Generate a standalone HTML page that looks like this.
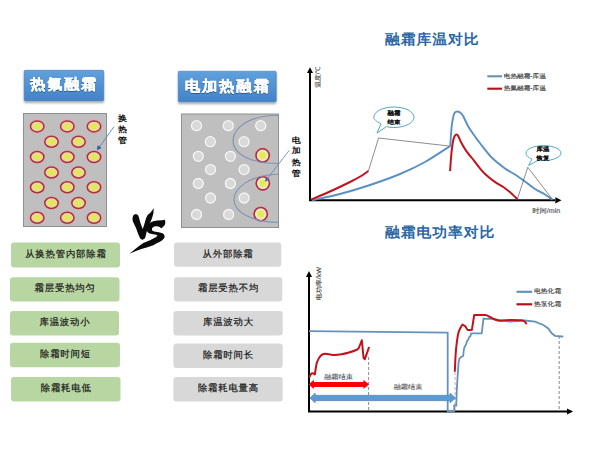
<!DOCTYPE html>
<html><head><meta charset="utf-8">
<style>
html,body{margin:0;padding:0;background:#fff;width:600px;height:450px;overflow:hidden}
svg{display:block;font-family:"Liberation Sans",sans-serif;text-rendering:geometricPrecision}
</style></head><body>
<svg width="600" height="450" viewBox="0 0 600 450">
<defs>
  <linearGradient id="tb" x1="0" y1="0" x2="0" y2="1">
    <stop offset="0" stop-color="#60a0dc"/>
    <stop offset="1" stop-color="#4283c8"/>
  </linearGradient>
  <filter id="sh" x="-10%" y="-10%" width="120%" height="140%">
    <feGaussianBlur in="SourceAlpha" stdDeviation="1"/>
    <feOffset dy="1.5"/>
    <feComponentTransfer><feFuncA type="linear" slope="0.35"/></feComponentTransfer>
    <feMerge><feMergeNode/><feMergeNode in="SourceGraphic"/></feMerge>
  </filter>
  <filter id="tsh" x="-10%" y="-20%" width="120%" height="150%">
    <feGaussianBlur in="SourceAlpha" stdDeviation="0.5"/>
    <feOffset dy="0.7"/>
    <feComponentTransfer><feFuncA type="linear" slope="0.35"/></feComponentTransfer>
    <feMerge><feMergeNode/><feMergeNode in="SourceGraphic"/></feMerge>
  </filter>
</defs>

<!-- Title boxes -->
<rect x="24.2" y="70.3" width="79.5" height="30.4" rx="1" fill="url(#tb)" stroke="#3f78b8" stroke-width="0.6" filter="url(#sh)"/>
<g filter="url(#tsh)"><g transform="translate(64.14999999999999,85.0) scale(1,0.96)"><text x="0" y="0" style="font-size:15.2px;font-weight:bold;letter-spacing:1.7px" fill="#fff" stroke="#fff" stroke-width="0.2" text-anchor="middle" dominant-baseline="central">热氟融霜</text></g></g>
<rect x="178.3" y="71.2" width="97.9" height="30.5" rx="1" fill="url(#tb)" stroke="#3f78b8" stroke-width="0.6" filter="url(#sh)"/>
<g filter="url(#tsh)"><g transform="translate(227.675,86.8) scale(1,0.96)"><text x="0" y="0" style="font-size:15.4px;font-weight:bold;letter-spacing:1.75px" fill="#fff" stroke="#fff" stroke-width="0.2" text-anchor="middle" dominant-baseline="central">电加热融霜</text></g></g>

<!-- Left gray box -->
<rect x="23.5" y="113.5" width="83" height="113" fill="#bfbfbf" stroke="#8f8f8f" stroke-width="1"/>
<g>
<g transform="translate(37.2,126.4)"><ellipse rx="7.5" ry="6.3" fill="none" stroke="#e4a6ae" stroke-width="1.5"/> <ellipse rx="6.7" ry="5.5" fill="#f0d2b4" stroke="#a5333d" stroke-width="1.5"/> <ellipse rx="4.5" ry="3.5" fill="#e2e470"/> <ellipse rx="2.6" ry="1.9" fill="#e6e84c"/></g>
<g transform="translate(67.3,126.4)"><ellipse rx="7.5" ry="6.3" fill="none" stroke="#e4a6ae" stroke-width="1.5"/> <ellipse rx="6.7" ry="5.5" fill="#f0d2b4" stroke="#a5333d" stroke-width="1.5"/> <ellipse rx="4.5" ry="3.5" fill="#e2e470"/> <ellipse rx="2.6" ry="1.9" fill="#e6e84c"/></g>
<g transform="translate(94,126.4)"><ellipse rx="7.5" ry="6.3" fill="none" stroke="#e4a6ae" stroke-width="1.5"/> <ellipse rx="6.7" ry="5.5" fill="#f0d2b4" stroke="#a5333d" stroke-width="1.5"/> <ellipse rx="4.5" ry="3.5" fill="#e2e470"/> <ellipse rx="2.6" ry="1.9" fill="#e6e84c"/></g>
<g transform="translate(51.5,141.8)"><ellipse rx="7.5" ry="6.3" fill="none" stroke="#e4a6ae" stroke-width="1.5"/> <ellipse rx="6.7" ry="5.5" fill="#f0d2b4" stroke="#a5333d" stroke-width="1.5"/> <ellipse rx="4.5" ry="3.5" fill="#e2e470"/> <ellipse rx="2.6" ry="1.9" fill="#e6e84c"/></g>
<g transform="translate(78.5,141.8)"><ellipse rx="7.5" ry="6.3" fill="none" stroke="#e4a6ae" stroke-width="1.5"/> <ellipse rx="6.7" ry="5.5" fill="#f0d2b4" stroke="#a5333d" stroke-width="1.5"/> <ellipse rx="4.5" ry="3.5" fill="#e2e470"/> <ellipse rx="2.6" ry="1.9" fill="#e6e84c"/></g>
<g transform="translate(37.2,157)"><ellipse rx="7.5" ry="6.3" fill="none" stroke="#e4a6ae" stroke-width="1.5"/> <ellipse rx="6.7" ry="5.5" fill="#f0d2b4" stroke="#a5333d" stroke-width="1.5"/> <ellipse rx="4.5" ry="3.5" fill="#e2e470"/> <ellipse rx="2.6" ry="1.9" fill="#e6e84c"/></g>
<g transform="translate(67.3,157)"><ellipse rx="7.5" ry="6.3" fill="none" stroke="#e4a6ae" stroke-width="1.5"/> <ellipse rx="6.7" ry="5.5" fill="#f0d2b4" stroke="#a5333d" stroke-width="1.5"/> <ellipse rx="4.5" ry="3.5" fill="#e2e470"/> <ellipse rx="2.6" ry="1.9" fill="#e6e84c"/></g>
<g transform="translate(94,157)"><ellipse rx="7.5" ry="6.3" fill="none" stroke="#e4a6ae" stroke-width="1.5"/> <ellipse rx="6.7" ry="5.5" fill="#f0d2b4" stroke="#a5333d" stroke-width="1.5"/> <ellipse rx="4.5" ry="3.5" fill="#e2e470"/> <ellipse rx="2.6" ry="1.9" fill="#e6e84c"/></g>
<g transform="translate(51.5,172.5)"><ellipse rx="7.5" ry="6.3" fill="none" stroke="#e4a6ae" stroke-width="1.5"/> <ellipse rx="6.7" ry="5.5" fill="#f0d2b4" stroke="#a5333d" stroke-width="1.5"/> <ellipse rx="4.5" ry="3.5" fill="#e2e470"/> <ellipse rx="2.6" ry="1.9" fill="#e6e84c"/></g>
<g transform="translate(78.5,172.5)"><ellipse rx="7.5" ry="6.3" fill="none" stroke="#e4a6ae" stroke-width="1.5"/> <ellipse rx="6.7" ry="5.5" fill="#f0d2b4" stroke="#a5333d" stroke-width="1.5"/> <ellipse rx="4.5" ry="3.5" fill="#e2e470"/> <ellipse rx="2.6" ry="1.9" fill="#e6e84c"/></g>
<g transform="translate(37.2,187.3)"><ellipse rx="7.5" ry="6.3" fill="none" stroke="#e4a6ae" stroke-width="1.5"/> <ellipse rx="6.7" ry="5.5" fill="#f0d2b4" stroke="#a5333d" stroke-width="1.5"/> <ellipse rx="4.5" ry="3.5" fill="#e2e470"/> <ellipse rx="2.6" ry="1.9" fill="#e6e84c"/></g>
<g transform="translate(67.3,187.3)"><ellipse rx="7.5" ry="6.3" fill="none" stroke="#e4a6ae" stroke-width="1.5"/> <ellipse rx="6.7" ry="5.5" fill="#f0d2b4" stroke="#a5333d" stroke-width="1.5"/> <ellipse rx="4.5" ry="3.5" fill="#e2e470"/> <ellipse rx="2.6" ry="1.9" fill="#e6e84c"/></g>
<g transform="translate(94,187.3)"><ellipse rx="7.5" ry="6.3" fill="none" stroke="#e4a6ae" stroke-width="1.5"/> <ellipse rx="6.7" ry="5.5" fill="#f0d2b4" stroke="#a5333d" stroke-width="1.5"/> <ellipse rx="4.5" ry="3.5" fill="#e2e470"/> <ellipse rx="2.6" ry="1.9" fill="#e6e84c"/></g>
<g transform="translate(51.5,203)"><ellipse rx="7.5" ry="6.3" fill="none" stroke="#e4a6ae" stroke-width="1.5"/> <ellipse rx="6.7" ry="5.5" fill="#f0d2b4" stroke="#a5333d" stroke-width="1.5"/> <ellipse rx="4.5" ry="3.5" fill="#e2e470"/> <ellipse rx="2.6" ry="1.9" fill="#e6e84c"/></g>
<g transform="translate(78.5,203)"><ellipse rx="7.5" ry="6.3" fill="none" stroke="#e4a6ae" stroke-width="1.5"/> <ellipse rx="6.7" ry="5.5" fill="#f0d2b4" stroke="#a5333d" stroke-width="1.5"/> <ellipse rx="4.5" ry="3.5" fill="#e2e470"/> <ellipse rx="2.6" ry="1.9" fill="#e6e84c"/></g>
<g transform="translate(37.2,217.7)"><ellipse rx="7.5" ry="6.3" fill="none" stroke="#e4a6ae" stroke-width="1.5"/> <ellipse rx="6.7" ry="5.5" fill="#f0d2b4" stroke="#a5333d" stroke-width="1.5"/> <ellipse rx="4.5" ry="3.5" fill="#e2e470"/> <ellipse rx="2.6" ry="1.9" fill="#e6e84c"/></g>
<g transform="translate(67.3,217.7)"><ellipse rx="7.5" ry="6.3" fill="none" stroke="#e4a6ae" stroke-width="1.5"/> <ellipse rx="6.7" ry="5.5" fill="#f0d2b4" stroke="#a5333d" stroke-width="1.5"/> <ellipse rx="4.5" ry="3.5" fill="#e2e470"/> <ellipse rx="2.6" ry="1.9" fill="#e6e84c"/></g>
<g transform="translate(94,217.7)"><ellipse rx="7.5" ry="6.3" fill="none" stroke="#e4a6ae" stroke-width="1.5"/> <ellipse rx="6.7" ry="5.5" fill="#f0d2b4" stroke="#a5333d" stroke-width="1.5"/> <ellipse rx="4.5" ry="3.5" fill="#e2e470"/> <ellipse rx="2.6" ry="1.9" fill="#e6e84c"/></g>
</g>
<g transform="translate(122.5,118.2) scale(1,0.9)"><text x="0" y="0" style="font-size:9px;font-weight:bold" fill="#111" text-anchor="middle" dominant-baseline="central">换</text></g>
<g transform="translate(122.5,129.6) scale(1,0.9)"><text x="0" y="0" style="font-size:9px;font-weight:bold" fill="#111" text-anchor="middle" dominant-baseline="central">热</text></g>
<g transform="translate(122.5,140.3) scale(1,0.9)"><text x="0" y="0" style="font-size:9px;font-weight:bold" fill="#111" text-anchor="middle" dominant-baseline="central">管</text></g>
<line x1="114" y1="126.7" x2="99" y2="147.5" stroke="#5a7fae" stroke-width="0.9"/>
<path d="M97,150.2 L97.6,145.2 L101.6,148 Z" fill="#2f5aa0"/>

<!-- Right gray box -->
<rect x="181.5" y="114" width="97" height="113.5" fill="#bfbfbf" stroke="#8f8f8f" stroke-width="1"/>
<g>
<g transform="translate(196.5,125.7)"><circle r="5" fill="#d9d9d9" stroke="#f5f5f5" stroke-width="1.3"/></g>
<g transform="translate(228.3,125.7)"><circle r="5" fill="#d9d9d9" stroke="#f5f5f5" stroke-width="1.3"/></g>
<g transform="translate(260.7,125.7)"><circle r="5" fill="#d9d9d9" stroke="#f5f5f5" stroke-width="1.3"/></g>
<g transform="translate(210.3,141.7)"><circle r="5" fill="#d9d9d9" stroke="#f5f5f5" stroke-width="1.3"/></g>
<g transform="translate(244,141.7)"><circle r="5" fill="#d9d9d9" stroke="#f5f5f5" stroke-width="1.3"/></g>
<g transform="translate(198.3,156.3)"><circle r="5" fill="#d9d9d9" stroke="#f5f5f5" stroke-width="1.3"/></g>
<g transform="translate(230.4,156.3)"><circle r="5" fill="#d9d9d9" stroke="#f5f5f5" stroke-width="1.3"/></g>
<g transform="translate(210.5,169.6)"><circle r="5" fill="#d9d9d9" stroke="#f5f5f5" stroke-width="1.3"/></g>
<g transform="translate(244.1,169.6)"><circle r="5" fill="#d9d9d9" stroke="#f5f5f5" stroke-width="1.3"/></g>
<g transform="translate(198.3,183.5)"><circle r="5" fill="#d9d9d9" stroke="#f5f5f5" stroke-width="1.3"/></g>
<g transform="translate(230.4,183.5)"><circle r="5" fill="#d9d9d9" stroke="#f5f5f5" stroke-width="1.3"/></g>
<g transform="translate(210.5,198)"><circle r="5" fill="#d9d9d9" stroke="#f5f5f5" stroke-width="1.3"/></g>
<g transform="translate(244.1,198)"><circle r="5" fill="#d9d9d9" stroke="#f5f5f5" stroke-width="1.3"/></g>
<g transform="translate(196.5,214.5)"><circle r="5" fill="#d9d9d9" stroke="#f5f5f5" stroke-width="1.3"/></g>
<g transform="translate(228.6,214.5)"><circle r="5" fill="#d9d9d9" stroke="#f5f5f5" stroke-width="1.3"/></g>
</g>
<g transform="translate(262.6,155.4)"><circle r="7.4" fill="none" stroke="#e4a6ae" stroke-width="1.3"/> <circle r="6.6" fill="#f8e8d6" stroke="#a5333d" stroke-width="1.6"/> <circle r="4.1" fill="#e6ea72"/> <circle r="2.3" fill="#e2ea4c"/></g>
<g transform="translate(262.8,183.3)"><circle r="7.4" fill="none" stroke="#e4a6ae" stroke-width="1.3"/> <circle r="6.6" fill="#f8e8d6" stroke="#a5333d" stroke-width="1.6"/> <circle r="4.1" fill="#e6ea72"/> <circle r="2.3" fill="#e2ea4c"/></g>
<g transform="translate(260.7,214.1)"><circle r="7.4" fill="none" stroke="#e4a6ae" stroke-width="1.3"/> <circle r="6.6" fill="#f8e8d6" stroke="#a5333d" stroke-width="1.6"/> <circle r="4.1" fill="#e6ea72"/> <circle r="2.3" fill="#e2ea4c"/></g>
<g fill="none" stroke="#7f93b6" stroke-width="1.1">
<path d="M278,115.3 C247,115.5 233,129 233,141 C233,153 249,163.5 278,163.5"/>
<path d="M278,174.3 C250,175 234,188 234,199.7 C234,212 252,222.2 278,222.2"/>
</g>
<g transform="translate(296.2,140) scale(1,0.9)"><text x="0" y="0" style="font-size:9px;font-weight:bold" fill="#111" text-anchor="middle" dominant-baseline="central">电</text></g>
<g transform="translate(296.2,150.7) scale(1,0.9)"><text x="0" y="0" style="font-size:9px;font-weight:bold" fill="#111" text-anchor="middle" dominant-baseline="central">加</text></g>
<g transform="translate(296.2,162) scale(1,0.9)"><text x="0" y="0" style="font-size:9px;font-weight:bold" fill="#111" text-anchor="middle" dominant-baseline="central">热</text></g>
<g transform="translate(296.2,173) scale(1,0.9)"><text x="0" y="0" style="font-size:9px;font-weight:bold" fill="#111" text-anchor="middle" dominant-baseline="central">管</text></g>
<line x1="289.3" y1="150.3" x2="267" y2="179" stroke="#4f81bd" stroke-width="0.8"/>
<path d="M265,182 L266,177 L269,179.5 Z" fill="#3a64a8"/>

<!-- VS -->
<g transform="translate(120,200) scale(0.13333)" fill="#0a0a0a">
<path d="M96.6,124 C100,110 112,106 119.9,107.4 C128,108 134,110 139.9,124 L153,170 L169.8,217 L179.8,190.6 L193.1,144 C200,125 205,115 209.7,110.7 C218,102 225,98 229.7,94 L253,62 L250,104 L240,137.3 L221,184 L200,237.2 L189,283.7 C184,294 172,299 163.2,297 C156,296 152,290 149,283.7 L137,257.1 L120,210.5 L101,170.6 C94,155 91,140 96.6,124 Z"/>
<path d="M333,148 C341,152 342,168 337,183 C333,194 322,205 308,211 L297.5,202 C290,198 283,197 275,197 C262,198 255,199 250,202 C243,207 240,211 240,216 C240,222 240,226 241,229 C245,233 250,235 257,236.5 L290,242 C300,244 312,246 318,249 C326,254 332,260 334,267.5 C336,276 334,284 328,290 C320,299 313,305 306,310 C292,318 282,322 272,326 L250,340 L200,356 L160,368 L120,383 L72,404 L110,372 L150,340 L175,322.5 L225,302.5 L268,279 C276,274 280,270 280.5,266 C274,263 268,261 260,259.5 L230,254 C219,251 210,245 205,238 C201,232 200,226 200,220 C200,211 203,203 207,197 C212,188 218,180 223,175 C231,168 240,163 250,160 L280,154.5 L315,151 C322,150 328,148 333,148 Z"/>

</g>

<!-- Buttons -->
<rect x="11" y="242.5" width="109" height="25" rx="3" fill="#b8d6a1"/>
<g transform="translate(65.9,253.6) scale(1,1.0)"><text x="0" y="0" style="font-size:9.4px;font-weight:normal;letter-spacing:0.8px" fill="#1a1a1a" stroke="#1a1a1a" stroke-width="0.22" text-anchor="middle" dominant-baseline="central">从换热管内部除霜</text></g>
<rect x="10" y="277.2" width="109.5" height="24.3" rx="3" fill="#b8d6a1"/>
<g transform="translate(65.15,287.95) scale(1,1.0)"><text x="0" y="0" style="font-size:9.4px;font-weight:normal;letter-spacing:0.8px" fill="#1a1a1a" stroke="#1a1a1a" stroke-width="0.22" text-anchor="middle" dominant-baseline="central">霜层受热均匀</text></g>
<rect x="10" y="311" width="109" height="24.5" rx="3" fill="#b8d6a1"/>
<g transform="translate(64.9,321.85) scale(1,1.0)"><text x="0" y="0" style="font-size:9.4px;font-weight:normal;letter-spacing:0.8px" fill="#1a1a1a" stroke="#1a1a1a" stroke-width="0.22" text-anchor="middle" dominant-baseline="central">库温波动小</text></g>
<rect x="10" y="342.8" width="110" height="24.4" rx="3" fill="#b8d6a1"/>
<g transform="translate(65.4,353.6) scale(1,1.0)"><text x="0" y="0" style="font-size:9.4px;font-weight:normal;letter-spacing:0.8px" fill="#1a1a1a" stroke="#1a1a1a" stroke-width="0.22" text-anchor="middle" dominant-baseline="central">除霜时间短</text></g>
<rect x="11" y="377" width="109.5" height="24.5" rx="3" fill="#b8d6a1"/>
<g transform="translate(66.15,387.85) scale(1,1.0)"><text x="0" y="0" style="font-size:9.4px;font-weight:normal;letter-spacing:0.8px" fill="#1a1a1a" stroke="#1a1a1a" stroke-width="0.22" text-anchor="middle" dominant-baseline="central">除霜耗电低</text></g>
<rect x="174" y="242.6" width="107.3" height="24.2" rx="3" fill="#d8d8d8"/>
<g transform="translate(228.05,253.29999999999998) scale(1,1.0)"><text x="0" y="0" style="font-size:9.4px;font-weight:normal;letter-spacing:0.8px" fill="#1a1a1a" stroke="#1a1a1a" stroke-width="0.22" text-anchor="middle" dominant-baseline="central">从外部除霜</text></g>
<rect x="174" y="277.2" width="108.3" height="24.3" rx="3" fill="#d8d8d8"/>
<g transform="translate(228.55,287.95) scale(1,1.0)"><text x="0" y="0" style="font-size:9.4px;font-weight:normal;letter-spacing:0.8px" fill="#1a1a1a" stroke="#1a1a1a" stroke-width="0.22" text-anchor="middle" dominant-baseline="central">霜层受热不均</text></g>
<rect x="173.4" y="311" width="109.3" height="24.5" rx="3" fill="#d8d8d8"/>
<g transform="translate(228.45000000000002,321.85) scale(1,1.0)"><text x="0" y="0" style="font-size:9.4px;font-weight:normal;letter-spacing:0.8px" fill="#1a1a1a" stroke="#1a1a1a" stroke-width="0.22" text-anchor="middle" dominant-baseline="central">库温波动大</text></g>
<rect x="173.4" y="343.5" width="109.3" height="24.5" rx="3" fill="#d8d8d8"/>
<g transform="translate(228.45000000000002,354.35) scale(1,1.0)"><text x="0" y="0" style="font-size:9.4px;font-weight:normal;letter-spacing:0.8px" fill="#1a1a1a" stroke="#1a1a1a" stroke-width="0.22" text-anchor="middle" dominant-baseline="central">除霜时间长</text></g>
<rect x="173.4" y="377" width="109.3" height="24.5" rx="3" fill="#d8d8d8"/>
<g transform="translate(228.45000000000002,387.85) scale(1,1.0)"><text x="0" y="0" style="font-size:9.4px;font-weight:normal;letter-spacing:0.8px" fill="#1a1a1a" stroke="#1a1a1a" stroke-width="0.22" text-anchor="middle" dominant-baseline="central">除霜耗电量高</text></g>

<!-- Chart 1 -->
<g transform="translate(385,40.2) scale(1,0.95)"><text x="0" y="0" style="font-size:14.8px;font-weight:bold;letter-spacing:0.95px" fill="#2b67a6" text-anchor="start" dominant-baseline="central">融霜库温对比</text></g>
<g stroke="#000" stroke-width="2" fill="none">
<line x1="310" y1="72" x2="310" y2="200.5"/>
<line x1="309" y1="200.2" x2="555" y2="200.2"/>
</g>
<path d="M310,67.3 L307,73 L313,73 Z" fill="#000"/>
<path d="M561.5,200.3 L555.3,197.2 L555.3,203.4 Z" fill="#000"/>
<g transform="translate(318.7,77) rotate(-90)"><g transform="translate(0,0) scale(1,0.95)"><text x="0" y="0" style="font-size:6.7px;font-weight:normal" fill="#505050" stroke="#505050" stroke-width="0.12" text-anchor="middle" dominant-baseline="central">温度/℃</text></g></g>
<g transform="translate(546.3,211) scale(1,0.95)"><text x="0" y="0" style="font-size:7.2px;font-weight:normal" fill="#4a4a4a" stroke="#4a4a4a" stroke-width="0.12" text-anchor="middle" dominant-baseline="central">时间/min</text></g>
<line x1="487.3" y1="76.3" x2="502" y2="76.3" stroke="#6592bb" stroke-width="2.1"/>
<g transform="translate(503.8,76.6) scale(1,0.9)"><text x="0" y="0" style="font-size:6.65px;font-weight:normal" fill="#3a3a3a" stroke="#3a3a3a" stroke-width="0.15" text-anchor="start" dominant-baseline="central">电热融霜-库温</text></g>
<line x1="487.3" y1="88.7" x2="502" y2="88.7" stroke="#b3101a" stroke-width="2.1"/>
<g transform="translate(503.8,88.6) scale(1,0.9)"><text x="0" y="0" style="font-size:6.65px;font-weight:normal" fill="#3a3a3a" stroke="#3a3a3a" stroke-width="0.15" text-anchor="start" dominant-baseline="central">热氟融霜-库温</text></g>
<!-- blue curve -->
<path d="M312,200.3 C316.67,199.25 330.33,196.55 340.00,194.00 C349.67,191.45 360.00,188.33 370.00,185.00 C380.00,181.67 390.83,177.83 400.00,174.00 C409.17,170.17 416.63,166.67 425.00,162.00 C433.37,157.33 446.00,148.67 450.20,146.00 L450.2,146 C450.37,143.67 450.88,135.82 451.20,132.00 C451.52,128.18 451.60,126.17 452.10,123.10 C452.60,120.03 453.40,115.52 454.20,113.60 C455.00,111.68 455.97,111.80 456.90,111.60 C457.83,111.40 458.77,111.67 459.80,112.40 C460.83,113.13 461.67,113.62 463.10,116.00 C464.53,118.38 466.32,123.15 468.40,126.70 C470.48,130.25 473.57,134.42 475.60,137.30 C477.63,140.18 478.00,140.72 480.60,144.00 C483.20,147.28 487.13,152.92 491.20,157.00 C495.27,161.08 501.03,165.58 505.00,168.50 C508.97,171.42 511.67,172.33 515.00,174.50 C518.33,176.67 521.67,179.08 525.00,181.50 C528.33,183.92 531.67,186.83 535.00,189.00 C538.33,191.17 542.08,192.70 545.00,194.50 C547.92,196.30 551.25,198.92 552.50,199.80" fill="none" stroke="#5b90c4" stroke-width="1.9"/>
<!-- red curves -->
<path d="M311,199.6 C314.17,198.25 323.50,194.43 330.00,191.50 C336.50,188.57 344.67,184.67 350.00,182.00 C355.33,179.33 358.93,177.33 362.00,175.50 C365.07,173.67 367.33,171.75 368.40,171.00" fill="none" stroke="#c2121c" stroke-width="2"/>
<path d="M450.1,171.1 C450.25,168.92 450.68,161.85 451.00,158.00 C451.32,154.15 451.60,151.08 452.00,148.00 C452.40,144.92 452.92,141.53 453.40,139.50 C453.88,137.47 454.40,136.62 454.90,135.80 C455.40,134.98 455.85,134.58 456.40,134.60 C456.95,134.62 457.38,134.55 458.20,135.90 C459.02,137.25 459.88,140.08 461.30,142.70 C462.72,145.32 464.62,148.65 466.70,151.60 C468.78,154.55 471.58,157.60 473.80,160.40 C476.02,163.20 477.98,166.00 480.00,168.40 C482.02,170.80 483.43,172.55 485.90,174.80 C488.37,177.05 491.83,179.83 494.80,181.90 C497.77,183.97 500.83,185.18 503.70,187.20 C506.57,189.22 509.65,191.93 512.00,194.00 C514.35,196.07 516.83,198.67 517.80,199.60" fill="none" stroke="#c2121c" stroke-width="2"/>
<!-- callout lines -->
<polyline points="368.4,171 378.6,138 449,146" fill="none" stroke="#404040" stroke-width="0.6"/>
<polyline points="517.2,199.5 527.8,167.3 552.5,199.5" fill="none" stroke="#404040" stroke-width="0.6"/>
<!-- bubbles -->
<path d="M381,124 C376,121 373.8,119.5 373.8,117.25 C373.8,111.6 382.8,107 393.9,107 C405,107 414,111.6 414,117.25 C414,122.9 405,127.5 393.9,127.5 C391,127.5 388.5,127.2 386.5,126.6 L377,133 Z" fill="#fff" stroke="#4bacc6" stroke-width="1"/>
<g transform="translate(393.9,113.6) scale(1,0.9)"><text x="0" y="0" style="font-size:6.4px;font-weight:bold" fill="#111" stroke="#111" stroke-width="0.05" text-anchor="middle" dominant-baseline="central">融霜</text></g>
<g transform="translate(393.9,122.2) scale(1,0.9)"><text x="0" y="0" style="font-size:6.4px;font-weight:bold" fill="#111" stroke="#111" stroke-width="0.05" text-anchor="middle" dominant-baseline="central">结束</text></g>
<path d="M532,159.1 C528.5,157.6 526,155.5 526,153.1 C526,149 533.8,145.6 543.5,145.6 C553.2,145.6 561,149 561,153.1 C561,157.2 553.2,160.6 543.5,160.6 C541.5,160.6 539.6,160.5 538,160.3 L528.6,165.5 Z" fill="#fff" stroke="#4bacc6" stroke-width="1"/>
<g transform="translate(543,150.0) scale(1,0.9)"><text x="0" y="0" style="font-size:6.4px;font-weight:bold" fill="#111" stroke="#111" stroke-width="0.05" text-anchor="middle" dominant-baseline="central">库温</text></g>
<g transform="translate(543,158.2) scale(1,0.9)"><text x="0" y="0" style="font-size:6.4px;font-weight:bold" fill="#111" stroke="#111" stroke-width="0.05" text-anchor="middle" dominant-baseline="central">恢复</text></g>

<!-- Chart 2 -->
<g transform="translate(385,233.4) scale(1,0.95)"><text x="0" y="0" style="font-size:14.8px;font-weight:bold;letter-spacing:0.95px" fill="#2b67a6" text-anchor="start" dominant-baseline="central">融霜电功率对比</text></g>
<g stroke="#000" stroke-width="2" fill="none">
<line x1="309" y1="276" x2="309" y2="412"/>
<line x1="308" y1="411.4" x2="568" y2="411.4"/>
</g>
<path d="M309,270.9 L306,277 L312,277 Z" fill="#000"/>
<path d="M573.1,411.4 L567,408.4 L567,414.4 Z" fill="#000"/>
<g transform="translate(318.9,283.7) rotate(-90)"><g transform="translate(0,0) scale(1,0.9)"><text x="0" y="0" style="font-size:7.1px;font-weight:normal" fill="#474747" stroke="#474747" stroke-width="0.15" text-anchor="middle" dominant-baseline="central">电功率/kW</text></g></g>
<line x1="516.5" y1="291.8" x2="532.2" y2="291.8" stroke="#6592bb" stroke-width="2.2"/>
<g transform="translate(534,291.6) scale(1,0.9)"><text x="0" y="0" style="font-size:6.8px;font-weight:normal" fill="#3a3a3a" stroke="#3a3a3a" stroke-width="0.15" text-anchor="start" dominant-baseline="central">电热化霜</text></g>
<line x1="516.5" y1="304.3" x2="532.2" y2="304.3" stroke="#b3101a" stroke-width="2.2"/>
<g transform="translate(534,304.3) scale(1,0.9)"><text x="0" y="0" style="font-size:6.8px;font-weight:normal" fill="#3a3a3a" stroke="#3a3a3a" stroke-width="0.15" text-anchor="start" dominant-baseline="central">热泵化霜</text></g>
<!-- dashed lines -->
<g stroke="#6e6e6e" stroke-width="0.8" stroke-dasharray="3,2">
<line x1="368.6" y1="357" x2="368.6" y2="411"/>
<line x1="455" y1="372" x2="455" y2="411" stroke="#c89090"/>
<line x1="559.2" y1="336" x2="559.2" y2="411"/>
</g>
<!-- blue power line -->
<path d="M309,331.2 L447.7,332.6 L447.7,411.2 L454.2,411.2 L454.2,405.5 L456.3,405.5 L456.8,390 L457.5,378 L458.6,362 L459.5,358.5 L461,357 L463.2,356 L463.8,350 L464.5,347 L466.3,344 L466.8,341.5 L468.3,339.5 L469,337.5 L470.5,336 L471.2,333.3 L481.7,333.3 L483.5,318.6 L492,318.8 L498,320 L510,321.5 L517,321 L525,320.5 L535,321.7 L543.3,325 L548.3,328.5 L551.7,333.3 L555,335.8 L561.7,336.5 L563.3,336.7" fill="none" stroke="#6592bb" stroke-width="1.8"/>
<!-- red power lines -->
<path d="M309.3,377.5 C309.60,376.88 310.50,374.52 311.10,373.80 C311.70,373.08 312.28,373.08 312.90,373.20 C313.52,373.32 314.48,374.28 314.80,374.50 L314.8,374.5 C315.00,373.25 315.60,369.15 316.00,367.00 C316.40,364.85 316.38,363.52 317.20,361.60 C318.02,359.68 319.58,356.82 320.90,355.50 C322.22,354.18 323.07,353.80 325.10,353.70 C327.13,353.60 330.35,354.80 333.10,354.90 C335.85,355.00 338.95,354.70 341.60,354.30 C344.25,353.90 346.55,353.22 349.00,352.50 C351.45,351.78 354.68,350.72 356.30,350.00 C357.92,349.28 358.30,348.50 358.70,348.20 L358.7,348.2 C359.22,346.88 361.28,341.62 361.80,340.30 L361.8,340.3 C362.10,343.25 363.30,355.05 363.60,358.00 L363.6,358 C363.80,358.20 364.60,359.00 364.80,359.20 L364.8,359.2 C365.52,357.17 368.38,349.03 369.10,347.00" fill="none" stroke="#c2121c" stroke-width="2" stroke-linejoin="round"/>
<path d="M454.8,371.8 C454.93,369.00 455.32,359.47 455.60,355.00 C455.88,350.53 456.05,348.62 456.50,345.00 C456.95,341.38 457.60,336.22 458.30,333.30 C459.00,330.38 460.00,328.97 460.70,327.50 C461.40,326.03 462.20,325.00 462.50,324.50 L462.5,324.5 C462.97,324.80 464.43,325.42 465.30,326.30 C466.17,327.18 466.60,329.22 467.70,329.80 C468.80,330.38 471.20,329.80 471.90,329.80 L471.9,329.8 C472.28,327.35 473.82,317.55 474.20,315.10 L474.2,315.1 C476.03,315.10 482.57,314.78 485.20,315.10 C487.83,315.42 488.37,316.27 490.00,317.00 C491.63,317.73 493.33,318.87 495.00,319.50 C496.67,320.13 498.33,320.67 500.00,320.80 C501.67,320.93 503.33,320.43 505.00,320.30 C506.67,320.17 507.50,320.02 510.00,320.00 C512.50,319.98 517.67,320.03 520.00,320.20 C522.33,320.37 522.88,320.33 524.00,321.00 C525.12,321.67 526.25,323.67 526.70,324.20" fill="none" stroke="#c2121c" stroke-width="2" stroke-linejoin="round"/>
<!-- arrows -->
<path d="M308.6,384.4 L313.9,379.8 L313.9,382 L363.5,382 L363.5,379.8 L369,384.4 L363.5,389.1 L363.5,386.9 L313.9,386.9 L313.9,389.1 Z" fill="#ff0000"/>
<g transform="translate(338.5,377) scale(1,0.92)"><text x="0" y="0" style="font-size:7.2px;font-weight:normal" fill="#555" stroke="#555" stroke-width="0.12" text-anchor="middle" dominant-baseline="central">融霜结束</text></g>
<path d="M309.9,398 L315.2,393.1 L315.2,395.3 L450,395.3 L450,393.1 L455.6,398 L450,402.9 L450,400.7 L315.2,400.7 L315.2,402.9 Z" fill="#5b9bd5" stroke="#41719c" stroke-width="0.5"/>
<g transform="translate(408,386.7) scale(1,0.92)"><text x="0" y="0" style="font-size:7.2px;font-weight:normal" fill="#555" stroke="#555" stroke-width="0.12" text-anchor="middle" dominant-baseline="central">融霜结束</text></g>

</svg>
</body></html>
